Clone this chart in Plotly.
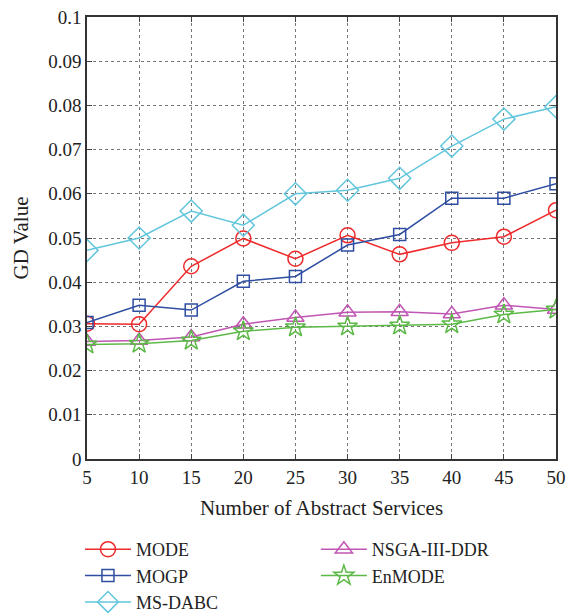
import plotly.graph_objects as go

x_vals = [5, 10, 15, 20, 25, 30, 35, 40, 45, 50]
mode = [0.0306, 0.0305, 0.0436, 0.0499, 0.0453, 0.0506, 0.0463, 0.0489, 0.0503, 0.0563]
mogp = [0.0309, 0.0348, 0.0337, 0.0402, 0.0413, 0.0484, 0.0508, 0.0590, 0.0590, 0.0623]
msdabc = [0.0472, 0.0500, 0.0561, 0.0529, 0.0600, 0.0608, 0.0635, 0.0708, 0.0769, 0.0797]
nsga = [0.0266, 0.0268, 0.0276, 0.0305, 0.0320, 0.0332, 0.0333, 0.0328, 0.0348, 0.0338]
enmode = [0.0259, 0.0261, 0.0268, 0.0289, 0.0298, 0.0300, 0.0302, 0.0305, 0.0327, 0.0338]

y_ticks = [0, 0.01, 0.02, 0.03, 0.04, 0.05, 0.06, 0.07, 0.08, 0.09, 0.1]
y_labels = ["0", "0.01", "0.02", "0.03", "0.04", "0.05", "0.06", "0.07", "0.08", "0.09", "0.1"]

FONT = "Liberation Serif, Times New Roman, serif"

series = [
    ("MODE", mode, "#ee2a2b", "circle-open", 15, "legend"),
    ("MOGP", mogp, "#2f4ea2", "square-open", 12, "legend"),
    ("MS-DABC", msdabc, "#62c6dc", "diamond-open", 17, "legend"),
    ("NSGA-III-DDR", nsga, "#c055b3", "triangle-up-open", 15, "legend2"),
    ("EnMODE", enmode, "#5cb947", "star-open", 15, "legend2"),
]

fig = go.Figure()
for name, ys, color, sym, size, leg in series:
    fig.add_trace(go.Scatter(
        x=x_vals, y=ys, name=name, mode="lines+markers",
        line=dict(color=color, width=1.5),
        marker=dict(symbol=sym, size=size, color=color, line=dict(color=color, width=1.5)),
        legend=leg,
    ))

legfont = dict(family=FONT, size=18, color="#222")

fig.update_layout(
    width=568, height=614,
    margin=dict(l=87, r=12, t=17, b=155),
    paper_bgcolor="white", plot_bgcolor="white",
    font=dict(family=FONT, size=19, color="#222"),
    xaxis=dict(
        range=[5, 50], tickvals=x_vals, ticks="inside", ticklen=5,
        showline=True, linecolor="#333", linewidth=1.5, mirror="ticks",
        showgrid=True, gridcolor="#777", griddash="dot", gridwidth=1,
        zeroline=False, tickfont=dict(family=FONT, size=19), automargin=False,
        title=dict(text="Number of Abstract Services", font=dict(family=FONT, size=21), standoff=14),
    ),
    yaxis=dict(
        range=[0, 0.1], tickvals=y_ticks, ticktext=y_labels, ticks="inside", ticklen=5,
        showline=True, linecolor="#333", linewidth=1.5, mirror="ticks",
        showgrid=True, gridcolor="#777", griddash="dot", gridwidth=1,
        zeroline=False, tickfont=dict(family=FONT, size=19), automargin=False,
        title=dict(text="GD Value", font=dict(family=FONT, size=21), standoff=14),
    ),
    legend=dict(x=-0.015, y=0.1352, xref="paper", yref="container",
                xanchor="left", yanchor="top", itemwidth=46,
                font=legfont, bgcolor="rgba(0,0,0,0)", tracegroupgap=0),
    legend2=dict(x=0.488, y=0.1352, xref="paper", yref="container",
                 xanchor="left", yanchor="top", itemwidth=46,
                 font=legfont, bgcolor="rgba(0,0,0,0)", tracegroupgap=0),
)

fig.write_html("out.html")
